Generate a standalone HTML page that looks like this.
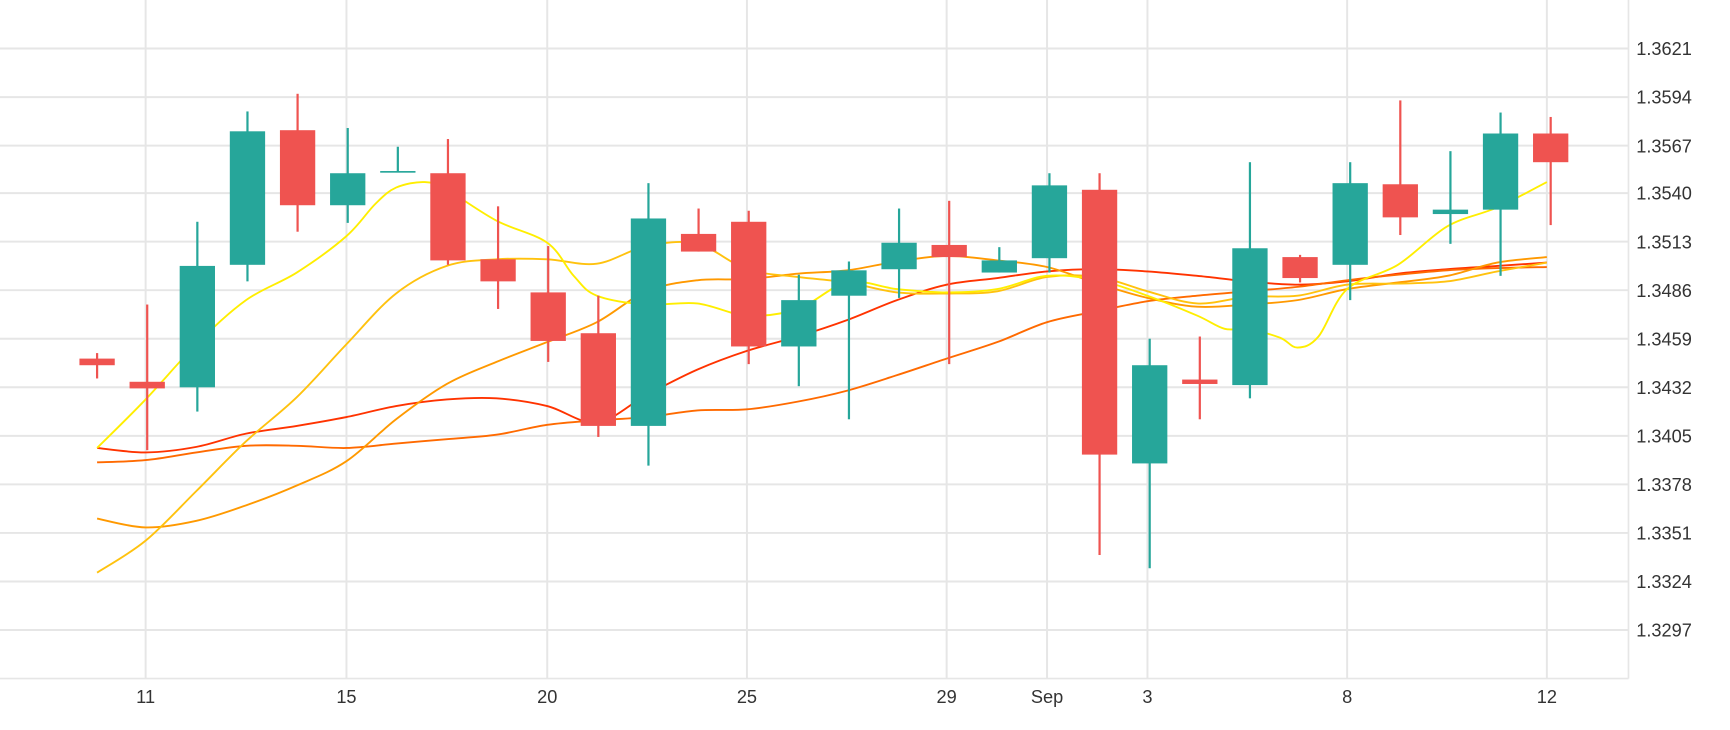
<!DOCTYPE html>
<html><head><meta charset="utf-8">
<style>
html,body{margin:0;padding:0;background:#fff;}
svg{display:block;}
text{font-family:"Liberation Sans","DejaVu Sans",sans-serif;fill:#333;}
</style></head>
<body>
<svg id="c" width="1730" height="730" viewBox="0 0 1568 661.6" preserveAspectRatio="none" xmlns="http://www.w3.org/2000/svg">
<g id="grid"></g><g id="lines"></g><g id="candles"></g><g id="labels"></g>
</svg>
<script>
var NS="http://www.w3.org/2000/svg";
function el(p,tag,a,txt){var e=document.createElementNS(NS,tag);for(var k in a)e.setAttribute(k,a[k]);if(txt!=null)e.textContent=txt;document.getElementById(p).appendChild(e);return e;}
var ys=[44,88,132,175,219,263,307,351,395,439,483,527,571];
var yl=["1.3621","1.3594","1.3567","1.3540","1.3513","1.3486","1.3459","1.3432","1.3405","1.3378","1.3351","1.3324","1.3297"];
ys.forEach(function(y,i){el("grid","line",{x1:0,x2:1476,y1:y,y2:y,stroke:"#e6e6e6","stroke-width":1.8});
el("labels","text",{x:1483,y:y+6,"font-size":16.5},yl[i]);});
var xt=[[132,"11"],[314,"15"],[496,"20"],[677,"25"],[858,"29"],[949,"Sep"],[1040,"3"],[1221,"8"],[1402,"12"]];
xt.forEach(function(t){el("grid","line",{x1:t[0],x2:t[0],y1:0,y2:615,stroke:"#e6e6e6","stroke-width":1.8});
el("labels","text",{x:t[0],y:637,"font-size":16.5,"text-anchor":"middle"},t[1]);});
el("grid","line",{x1:1476,x2:1476,y1:0,y2:615,stroke:"#e6e6e6","stroke-width":1.5});
el("grid","line",{x1:0,x2:1476,y1:615,y2:615,stroke:"#e6e6e6","stroke-width":1.5});
function path(pts){var d="M"+pts[0][0]+","+pts[0][1];
for(var i=0;i<pts.length-1;i++){var p0=pts[i-1]||pts[i],p1=pts[i],p2=pts[i+1],p3=pts[i+2]||p2;
var c1x=p1[0]+(p2[0]-p0[0])/6,c1y=p1[1]+(p2[1]-p0[1])/6,c2x=p2[0]-(p3[0]-p1[0])/6,c2y=p2[1]-(p3[1]-p1[1])/6;
d+=" C"+c1x+","+c1y+" "+c2x+","+c2y+" "+p2[0]+","+p2[1];}return d;}
function P(a){var r=[];for(var i=0;i<a.length;i+=2)r.push([a[i],a[i+1]]);return r;}
var L=[
["#ff3300",P([88,406,132,410,178,405,223,393,269,386,314,378,359,368,405,362,450,361,496,368,541,383,586,358,632,335,677,318,723,305,768,290,813,272,858,258,904,252,949,246,995,244,1040,246,1085,250,1131,255,1176,258,1221,255,1267,248,1312,244,1357,241,1402,238])],
["#ff6a00",P([88,419,132,417,178,410,223,404,269,404,314,406,359,402,405,398,450,394,496,385,541,381,586,378,632,372,677,371,723,364,768,354,813,340,858,325,904,310,949,292,995,282,1040,273,1085,268,1131,264,1176,260,1221,254,1267,249,1312,245,1357,243,1402,242])],
["#ff9900",P([88,470,132,478,178,472,223,458,269,440,314,418,359,380,405,348,450,328,496,310,541,292,586,264,632,254,677,253,723,248,768,245,813,237,858,232,904,236,949,242,995,257,1040,270,1085,278,1131,276,1176,272,1221,262,1267,256,1312,250,1357,238,1402,233])],
["#ffc20e",P([88,519,132,490,178,445,223,400,269,360,314,312,359,266,405,241,450,235,496,235,541,239,586,223,632,221,677,244,723,251,768,256,813,265,858,266,904,264,949,251,995,251,1040,264,1085,275,1131,269,1176,268,1221,258,1267,257,1312,255,1357,246,1402,238])],
["#ffee00",P([88,406,132,362,178,312,223,272,269,247,314,214,340,185,359,170,385,165,405,172,450,200,496,220,520,250,541,268,586,276,632,275,677,286,723,280,768,256,813,262,858,265,904,262,949,250,995,254,1040,268,1085,286,1110,298,1131,298,1160,306,1176,315,1195,305,1221,262,1267,240,1312,205,1357,188,1402,165])]
];
L.forEach(function(l){el("lines","path",{d:path(l[1]),fill:"none",stroke:l[0],"stroke-width":1.7});});
var G="#26a69a",R="#ef5350";
var C=[
[R,325,331,320,343],[R,346,352,276,408],[G,241,351,201,373],[G,119,240,101,255],[R,118,186,85,210],
[G,157,186,116,202],[G,155,156.5,133,156],[R,157,236,126,240],[R,235,255,187,280],[R,265,309,223,328],
[R,302,386,268,396],[G,198,386,166,422],[R,212,228,189,228],[R,201,314,191,330],[G,272,314,249,350],
[G,245,268,237,380],[G,220,244,189,270],[R,222,233,182,330],[G,236,247,224,247],[G,168,234,157,247],
[R,172,412,157,503],[G,331,420,307,515],[R,344,348,305,380],[G,225,349,147,361],[R,233,252,231,256],
[G,166,240,147,272],[R,167,197,91,213],[G,190,194,137,221],[G,121,190,102,250],[R,121,147,106,204]];
C.forEach(function(c,i){var x=88+45.43*i;
el("candles","rect",{x:x-1,y:c[3],width:2,height:c[4]-c[3],fill:c[0]});
el("candles","rect",{x:x-16,y:c[1],width:32,height:Math.max(c[2]-c[1],1.5),fill:c[0]});});
</script>
</body></html>
